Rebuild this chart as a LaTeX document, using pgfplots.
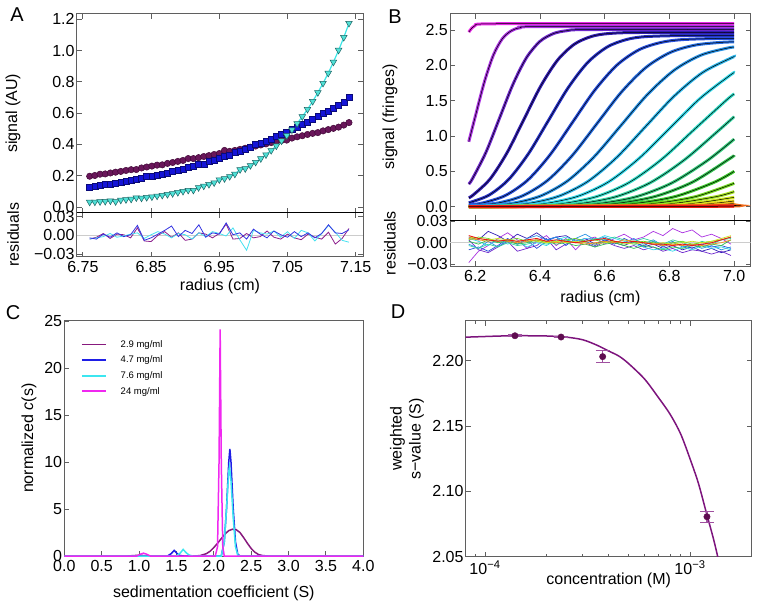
\documentclass[border=0pt]{standalone}
\usepackage{pgfplots}
\pgfplotsset{compat=1.18}
\usepackage{pgfplotstable}
\usepackage{fontspec}
\setmainfont{Liberation Sans}

\definecolor{axgray}{RGB}{95,95,95}
\definecolor{apur}{RGB}{105,22,90}
\definecolor{apurE}{RGB}{65,8,55}
\definecolor{ablu}{RGB}{20,20,215}
\definecolor{abluE}{RGB}{10,10,120}
\definecolor{acyn}{RGB}{80,225,215}
\definecolor{acynE}{RGB}{30,100,100}
\definecolor{acynL}{RGB}{60,230,230}
\definecolor{rpur}{RGB}{140,30,140}
\definecolor{rblu}{RGB}{50,50,225}
\definecolor{rcyn}{RGB}{70,225,240}
\definecolor{cpur}{RGB}{135,25,125}
\definecolor{cblu}{RGB}{30,30,230}
\definecolor{ccyn}{RGB}{60,230,240}
\definecolor{cmag}{RGB}{240,40,240}
\definecolor{dcurve}{RGB}{125,20,125}
\definecolor{dmark}{RGB}{95,12,80}
\definecolor{derr}{RGB}{160,80,160}
\definecolor{c0}{RGB}{230,40,230}
\definecolor{c1}{RGB}{170,50,225}
\definecolor{c2}{RGB}{110,40,205}
\definecolor{c3}{RGB}{50,30,180}
\definecolor{c4}{RGB}{40,50,200}
\definecolor{c5}{RGB}{40,80,220}
\definecolor{c6}{RGB}{40,110,225}
\definecolor{c7}{RGB}{40,145,228}
\definecolor{c8}{RGB}{45,180,232}
\definecolor{c9}{RGB}{50,215,232}
\definecolor{c10}{RGB}{50,220,200}
\definecolor{c11}{RGB}{50,210,160}
\definecolor{c12}{RGB}{50,200,120}
\definecolor{c13}{RGB}{50,195,80}
\definecolor{c14}{RGB}{60,200,45}
\definecolor{c15}{RGB}{110,215,30}
\definecolor{c16}{RGB}{160,225,30}
\definecolor{c17}{RGB}{205,230,30}
\definecolor{c18}{RGB}{235,215,30}
\definecolor{c19}{RGB}{240,180,30}
\definecolor{c20}{RGB}{240,145,30}
\definecolor{c21}{RGB}{240,105,25}
\definecolor{c22}{RGB}{240,65,20}
\definecolor{c23}{RGB}{235,25,20}

\pgfplotsset{
  base/.style={scale only axis, anchor=north west,
    axis line style={axgray, line width=1pt},
    tick style={axgray, line width=0.9pt},
    tick align=inside, major tick length=5pt, minor tick length=3pt,
    scaled ticks=false,
    tick label style={font=\fontsize{16}{19}\selectfont, inner sep=2pt},
    xticklabel style={yshift=-2.5pt},
    label style={font=\fontsize{16}{19}\selectfont},
    /pgf/number format/assume math mode=true, clip=true},
}

\newcommand{\bc}[2]{%
  \addplot[#1, line width=3pt, smooth, tension=0.5] coordinates {#2};
  \addplot[black, line width=0.5pt, smooth, tension=0.5] coordinates {#2};
}

\pgfplotstableread{
x p b c
6.7600 0.197 0.128 0.032
6.7676 0.202 0.133 0.033
6.7752 0.210 0.138 0.035
6.7828 0.212 0.143 0.037
6.7904 0.218 0.148 0.040
6.7980 0.223 0.153 0.035
6.8056 0.228 0.159 0.045
6.8132 0.234 0.165 0.048
6.8208 0.239 0.171 0.051
6.8284 0.240 0.177 0.060
6.8360 0.250 0.183 0.058
6.8436 0.256 0.198 0.062
6.8512 0.262 0.197 0.066
6.8588 0.268 0.204 0.071
6.8664 0.270 0.212 0.076
6.8740 0.279 0.219 0.081
6.8816 0.285 0.227 0.087
6.8892 0.292 0.235 0.094
6.8968 0.298 0.244 0.101
6.9044 0.310 0.253 0.108
6.9120 0.310 0.262 0.108
6.9196 0.316 0.271 0.125
6.9272 0.323 0.276 0.135
6.9348 0.329 0.291 0.145
6.9424 0.336 0.301 0.156
6.9500 0.342 0.311 0.175
6.9576 0.362 0.322 0.182
6.9652 0.356 0.333 0.196
6.9728 0.362 0.352 0.211
6.9804 0.369 0.357 0.240
6.9880 0.376 0.369 0.246
6.9956 0.383 0.381 0.266
7.0032 0.390 0.400 0.287
7.0108 0.397 0.408 0.310
7.0184 0.404 0.421 0.335
7.0260 0.412 0.435 0.362
7.0336 0.419 0.450 0.391
7.0412 0.426 0.464 0.423
7.0488 0.428 0.479 0.457
7.0564 0.441 0.495 0.494
7.0640 0.449 0.511 0.534
7.0716 0.456 0.527 0.578
7.0792 0.464 0.544 0.625
7.0868 0.471 0.561 0.676
7.0944 0.476 0.579 0.732
7.1020 0.487 0.597 0.792
7.1096 0.495 0.615 0.856
7.1172 0.503 0.634 0.927
7.1248 0.511 0.653 1.003
7.1324 0.524 0.673 1.085
7.1400 0.540 0.700 1.175
}\tableA

\pgfplotstableread{
x cy bl pu
6.76 -0.006 -0.004 -0.006
6.77 -0.004 -0.006 -0.003
6.78 -0.002 0.002 0.003
6.79 0.003 -0.003 -0.005
6.80 -0.003 0.004 0.002
6.81 -0.001 -0.002 0.001
6.82 0.002 0.001 -0.004
6.83 0.004 0.016 0.012
6.84 -0.005 -0.008 -0.009
6.85 0.001 -0.004 -0.010
6.86 0.006 0.002 0.000
6.87 0.002 0.008 0.006
6.88 -0.004 0.015 -0.003
6.89 0.003 -0.002 0.004
6.90 0.001 0.008 -0.008
6.91 -0.006 0.003 -0.006
6.92 0.004 0.017 0.004
6.93 -0.002 -0.003 0.002
6.94 0.006 0.004 -0.004
6.95 0.003 0.002 0.003
6.96 -0.001 0.020 0.018
6.97 0.012 0.001 -0.006
6.98 -0.007 0.004 -0.005
6.99 -0.024 -0.006 0.003
7.00 0.008 0.010 -0.004
7.01 0.004 0.002 -0.002
7.02 0.002 -0.004 0.007
7.03 0.007 0.007 -0.003
7.04 -0.003 0.001 -0.006
7.05 0.006 -0.003 0.002
7.06 -0.005 0.006 -0.004
7.07 0.008 -0.002 -0.007
7.08 0.004 0.004 0.002
7.09 -0.009 -0.004 -0.003
7.10 0.003 0.003 -0.006
7.11 0.016 0.017 0.005
7.12 0.005 0.004 -0.014
7.13 -0.008 0.003 -0.005
7.14 -0.011 0.009 0.011
}\resA

\pgfplotstableread{
x r1 r2 r3 r4 r5 r6 r7 r8 r9 r10 r11 r12
6.18 -0.028 0.004 0.008 -0.010 -0.002 0.006 -0.004 0.002 0.004 0.008 0.006 0.010
6.21 -0.012 -0.010 0.004 -0.006 -0.008 0.002 -0.008 -0.002 0.008 0.006 0.004 0.006
6.24 -0.004 -0.014 0.016 -0.012 0.002 -0.004 -0.002 0.004 0.006 0.004 0.002 0.004
6.27 0.006 -0.006 0.010 -0.004 -0.006 0.004 -0.006 0.000 0.002 0.006 0.004 0.002
6.30 0.014 0.002 0.002 0.006 0.004 -0.002 0.000 0.002 0.004 0.004 0.002 0.004
6.33 0.004 -0.012 0.012 -0.002 -0.002 0.002 -0.004 -0.002 0.006 0.002 0.000 0.002
6.36 -0.008 -0.008 0.006 0.004 0.006 -0.006 -0.002 0.000 0.002 0.004 0.002 0.004
6.39 0.002 -0.004 0.014 -0.008 0.010 0.000 0.002 0.004 0.004 0.002 0.004 0.006
6.42 0.010 0.006 0.004 0.002 0.004 -0.004 -0.002 0.002 0.000 0.000 0.002 0.002
6.45 -0.004 -0.010 0.008 0.008 0.008 0.004 0.002 -0.002 0.002 0.002 0.000 0.004
6.48 0.006 -0.002 0.010 -0.004 0.002 0.008 0.004 0.000 0.004 0.000 0.002 0.002
6.51 -0.010 0.004 0.002 0.006 0.006 0.002 0.000 -0.004 0.006 0.002 0.000 0.000
6.54 0.004 0.000 0.006 0.002 0.012 0.006 0.002 -0.002 0.002 0.000 -0.002 0.002
6.57 0.008 -0.006 -0.002 -0.004 0.004 0.004 0.006 -0.006 0.004 -0.002 0.000 0.004
6.60 -0.002 0.002 0.004 0.004 0.008 0.010 0.004 -0.002 0.000 0.000 0.002 0.006
6.63 0.006 -0.004 0.000 -0.002 0.002 0.006 0.008 0.000 0.002 0.002 0.000 0.002
6.66 0.012 -0.008 -0.004 0.006 0.000 0.002 0.004 -0.004 -0.002 0.000 0.004 0.000
6.69 0.004 -0.004 0.002 0.000 0.006 -0.002 0.002 -0.008 0.000 -0.002 0.002 0.002
6.72 0.008 -0.010 -0.006 -0.004 -0.002 -0.006 0.006 -0.004 0.002 0.000 0.000 0.000
6.75 0.016 -0.006 -0.002 0.002 0.004 -0.010 0.002 -0.006 0.000 -0.002 -0.002 -0.002
6.78 0.010 -0.012 -0.008 -0.006 -0.004 -0.008 -0.002 -0.010 -0.002 0.000 -0.004 -0.002
6.81 0.020 -0.008 -0.004 0.000 0.002 -0.012 0.004 -0.006 0.000 -0.002 -0.002 -0.004
6.84 0.014 -0.014 -0.010 -0.004 -0.006 -0.006 0.000 -0.008 0.002 0.000 -0.004 -0.002
6.87 0.018 -0.010 -0.006 -0.008 -0.002 -0.010 -0.004 -0.004 -0.002 0.002 -0.002 -0.004
6.90 0.008 -0.012 -0.012 -0.002 -0.008 -0.004 0.002 -0.006 0.000 0.000 -0.004 -0.002
6.93 0.012 -0.016 -0.008 -0.006 -0.004 -0.008 -0.002 -0.002 0.002 0.002 -0.002 0.000
6.96 0.006 -0.012 -0.014 -0.004 -0.010 -0.006 0.004 -0.004 0.004 0.006 0.000 0.004
6.99 -0.002 -0.018 -0.010 -0.008 -0.006 -0.010 0.006 0.004 0.008 0.010 0.004 0.008
}\resB

\begin{document}
\begin{tikzpicture}
\useasboundingbox (0,0) rectangle (762pt,-610pt);

% ---------------- Panel A ----------------
\begin{axis}[base, at={(76.7pt,-14pt)}, width=286.6pt, height=198.7pt,
  xmin=6.741, xmax=7.161, ymin=-0.036, ymax=1.234,
  xtick={6.75,6.85,6.95,7.05,7.15}, xticklabels={},
  ytick={0,0.2,0.4,0.6,0.8,1.0,1.2},
  yticklabel style={/pgf/number format/.cd, fixed, fixed zerofill, precision=1},
  ylabel={signal (AU)},
  ylabel style={at={(axis description cs:-0.222,0.5)}, anchor=center}]
\addplot[apur, line width=1pt, smooth] table[x=x,y=p] {\tableA};
\addplot[ablu, line width=1pt, smooth] table[x=x,y=b] {\tableA};
\addplot[acynL, line width=1.2pt, smooth] table[x=x,y=c] {\tableA};
\addplot[only marks, mark=*, mark size=3.2pt, mark options={fill=apur, draw=apurE, line width=0.5pt}] table[x=x,y=p] {\tableA};
\addplot[only marks, mark=square*, mark size=3pt, mark options={fill=ablu, draw=abluE, line width=0.5pt}] table[x=x,y=b] {\tableA};
\addplot[only marks, mark=triangle*, mark size=3.8pt, mark options={rotate=180, fill=acyn, draw=acynE, line width=0.5pt}] table[x=x,y=c] {\tableA};
\end{axis}

\begin{axis}[base, at={(76.7pt,-212.7pt)}, width=286.6pt, height=44pt,
  xmin=6.741, xmax=7.161, ymin=-0.0343, ymax=0.0364,
  xtick={6.75,6.85,6.95,7.05,7.15}, xticklabels={6.75,6.85,6.95,7.05,7.15},
  ytick={-0.03,0,0.03}, yticklabels={−0.03,0.00,0.03},
  xlabel={radius (cm)}, ylabel={residuals},
  xlabel style={at={(axis description cs:0.5,-0.68)}, anchor=center},
  ylabel style={at={(axis description cs:-0.222,0.5)}, anchor=center}]
\addplot[black!20, line width=0.8pt] coordinates {(6.741,0) (7.161,0)};
\addplot[rpur, line width=0.8pt] table[x=x,y=pu] {\resA};
\addplot[rcyn, line width=0.8pt] table[x=x,y=cy] {\resA};
\addplot[rblu, line width=0.8pt] table[x=x,y=bl] {\resA};
\draw[black, line width=1pt] (rel axis cs:0,1) -- (rel axis cs:1,1);
\end{axis}

% ---------------- Panel B ----------------
\begin{axis}[base, at={(450pt,-14pt)}, width=300.7pt, height=206pt,
  xmin=6.122, xmax=7.051, ymin=-0.189, ymax=2.726,
  xtick={6.2,6.4,6.6,6.8,7.0}, xticklabels={},
  ytick={0,0.5,1.0,1.5,2.0,2.5},
  yticklabel style={/pgf/number format/.cd, fixed, fixed zerofill, precision=1},
  ylabel={signal (fringes)},
  ylabel style={at={(axis description cs:-0.1995,0.5)}, anchor=center}]
\bc{c0}{(6.18,2.47) (6.19,2.53) (6.20,2.565) (6.22,2.585) (6.4,2.59) (7.0,2.59)}
\bc{c1}{(6.18,0.919) (6.20,1.274) (6.228,1.762) (6.256,2.144) (6.284,2.378) (6.312,2.490) (6.34,2.532) (6.40,2.548) (7.0,2.548)}
\bc{c2}{(6.18,0.319) (6.1917,0.398) (6.2334,0.773) (6.275,1.253) (6.3167,1.733) (6.3583,2.108) (6.40,2.339) (6.4416,2.449) (6.4833,2.490) (6.55,2.506) (7.0,2.506)}
\bc{c3}{(6.18,0.127) (6.1936,0.165) (6.2457,0.391) (6.2979,0.760) (6.35,1.232) (6.4021,1.704) (6.4543,2.073) (6.5064,2.299) (6.5586,2.408) (6.6107,2.449) (6.70,2.464) (7.0,2.464)}
\bc{c4}{(6.18,0.054) (6.242,0.162) (6.303,0.384) (6.364,0.747) (6.425,1.211) (6.486,1.675) (6.547,2.038) (6.608,2.260) (6.669,2.367) (6.73,2.407) (6.85,2.422) (7.0,2.422)}
\bc{c5}{(6.18,0.023) (6.2248,0.054) (6.2936,0.159) (6.3624,0.377) (6.4312,0.734) (6.50,1.190) (6.5688,1.645) (6.6376,2.002) (6.7064,2.221) (6.7752,2.325) (6.844,2.365) (6.95,2.380) (7.0,2.380)}
\bc{c6}{(6.18,0.011) (6.2717,0.053) (6.3475,0.156) (6.4233,0.371) (6.4992,0.721) (6.575,1.169) (6.6508,1.617) (6.7267,1.967) (6.8025,2.182) (6.8783,2.285) (6.9542,2.323) (7.0,2.332)}
\bc{c7}{(6.18,0.005) (6.2385,0.0143) (6.3208,0.0524) (6.4031,0.153) (6.4854,0.365) (6.5677,0.708) (6.65,1.148) (6.7323,1.588) (6.8146,1.931) (6.8969,2.143) (6.9792,2.244) (7.0,2.257)}
\bc{c8}{(6.18,0.002) (6.2833,0.014) (6.3716,0.0514) (6.46,0.151) (6.5483,0.358) (6.6367,0.695) (6.725,1.127) (6.8134,1.559) (6.9017,1.896) (6.99,2.103) (7.0,2.119)}
\bc{c9}{(6.18,0.001) (6.33,0.0137) (6.424,0.0504) (6.518,0.148) (6.612,0.351) (6.706,0.683) (6.80,1.106) (6.894,1.529) (6.988,1.861) (7.0,1.894)}
\bc{c10}{(6.18,0) (6.3782,0.0135) (6.4776,0.0495) (6.577,0.145) (6.6763,0.344) (6.7757,0.669) (6.875,1.085) (6.9744,1.501) (7.0,1.596)}
\bc{c11}{(6.18,0) (6.4278,0.0133) (6.5322,0.0488) (6.6367,0.143) (6.7411,0.3397) (6.8456,0.660) (6.95,1.070) (7.0,1.273)}
\bc{c12}{(6.18,0) (6.4785,0.013) (6.5878,0.0478) (6.6971,0.140) (6.8064,0.333) (6.9157,0.648) (7.0,0.955)}
\bc{c13}{(6.18,0) (6.53,0.0136) (6.644,0.0502) (6.758,0.147) (6.872,0.349) (6.986,0.679) (7.0,0.727)}
\bc{c14}{(6.18,0) (6.5825,0.0135) (6.701,0.0495) (6.8195,0.145) (6.938,0.344) (7.0,0.4995)}
\bc{c15}{(6.18,0) (6.636,0.0133) (6.7588,0.0488) (6.8816,0.143) (7.0,0.330)}
\bc{c16}{(6.18,0) (6.69,0.0131) (6.817,0.0481) (6.944,0.141) (7.0,0.212)}
\bc{c17}{(6.18,0) (6.7448,0.0129) (6.8758,0.0474) (7.0,0.132)}
\bc{c18}{(6.18,0) (6.80,0.0127) (6.935,0.0467) (7.0,0.0806)}
\bc{c19}{(6.18,0) (6.8557,0.0125) (7.0,0.048)}
\bc{c20}{(6.18,0) (6.912,0.0124) (7.0,0.0284)}
\bc{c21}{(6.18,0) (6.95,0.008) (7.0,0.017)}
\bc{c22}{(6.18,0) (7.0,0.01)}
\bc{c23}{(6.18,0) (7.0,0.006)}
\end{axis}

\begin{axis}[base, at={(450pt,-220pt)}, width=300.7pt, height=46pt,
  xmin=6.122, xmax=7.051, ymin=-0.0328, ymax=0.032,
  xtick={6.2,6.4,6.6,6.8,7.0}, xticklabels={6.2,6.4,6.6,6.8,7.0},
  ytick={-0.03,0,0.03}, yticklabels={−0.03,0.00,0.03},
  xlabel={radius (cm)}, ylabel={residuals},
  xlabel style={at={(axis description cs:0.5,-0.7)}, anchor=center},
  ylabel style={at={(axis description cs:-0.1995,0.5)}, anchor=center}]
\addplot[black!20, line width=0.8pt] coordinates {(6.122,0) (7.051,0)};
\addplot[c1, line width=0.7pt] table[x=x,y=r1] {\resB};
\addplot[c2, line width=0.7pt] table[x=x,y=r2] {\resB};
\addplot[c3, line width=0.7pt] table[x=x,y=r3] {\resB};
\addplot[c5, line width=0.7pt] table[x=x,y=r4] {\resB};
\addplot[c7, line width=0.7pt] table[x=x,y=r5] {\resB};
\addplot[c9, line width=0.7pt] table[x=x,y=r6] {\resB};
\addplot[c11, line width=0.7pt] table[x=x,y=r7] {\resB};
\addplot[c13, line width=0.7pt] table[x=x,y=r8] {\resB};
\addplot[c15, line width=0.7pt] table[x=x,y=r9] {\resB};
\addplot[c17, line width=0.7pt] table[x=x,y=r10] {\resB};
\addplot[c20, line width=0.7pt] table[x=x,y=r11] {\resB};
\addplot[c23, line width=0.9pt] table[x=x,y=r12] {\resB};
\draw[black, line width=1pt] (rel axis cs:0,1) -- (rel axis cs:1,1);
\end{axis}

% ---------------- Panel C ----------------
\begin{axis}[base, at={(64.3pt,-320.5pt)}, width=299pt, height=235.5pt,
  xmin=0, xmax=4, ymin=0, ymax=25.05,
  xtick={0,0.5,1,1.5,2,2.5,3,3.5,4}, ytick={0,5,10,15,20,25},
  xtick pos=bottom, ytick pos=left,
  xticklabel style={/pgf/number format/.cd, fixed, fixed zerofill, precision=1},
  xlabel={sedimentation coefficient (S)}, ylabel={normalized \textit{c}(s)},
  xlabel style={at={(axis description cs:0.5,-0.157)}, anchor=center},
  ylabel style={at={(axis description cs:-0.118,0.5)}, anchor=center},
  legend style={draw=none, fill=none, at={(axis description cs:0.055,0.925)}, anchor=north west,
    font=\fontsize{9.5}{11}\selectfont, row sep=3.2pt, inner sep=0pt},
  legend cell align=left,
  legend image code/.code={\draw[#1, line width=1.8pt] (0pt,0pt) -- (24pt,0pt);}]
\addplot[cpur, line width=1.5pt] coordinates {(0,0) (0.85,0) (0.92,0.04) (1.0,0.08) (1.08,0.04) (1.15,0) (1.75,0) (1.82,0.05) (1.9,0.25) (1.95,0.5) (2.0,0.9) (2.05,1.35) (2.1,1.85) (2.15,2.35) (2.2,2.7) (2.25,2.85) (2.3,2.8) (2.35,2.5) (2.4,1.95) (2.45,1.35) (2.5,0.8) (2.55,0.4) (2.6,0.15) (2.65,0.05) (2.72,0) (4,0)};
\addlegendentry{\hspace*{12pt}2.9 mg/ml}
\addplot[cblu, line width=1.5pt] coordinates {(0,0) (1.38,0) (1.43,0.25) (1.47,0.6) (1.51,0.25) (1.55,0.05) (1.6,0) (2.1,0) (2.14,1.5) (2.17,5) (2.2,10) (2.215,11.4) (2.23,10) (2.26,5) (2.29,1.5) (2.32,0.2) (2.35,0) (4,0)};
\addlegendentry{\hspace*{12pt}4.7 mg/ml}
\addplot[ccyn, line width=1.5pt] coordinates {(0,0) (1.5,0) (1.55,0.3) (1.59,0.7) (1.63,0.35) (1.67,0.1) (1.72,0) (2.1,0) (2.14,1.5) (2.17,5) (2.2,9) (2.21,9.5) (2.23,8) (2.26,4) (2.29,1) (2.32,0.1) (2.35,0) (4,0)};
\addlegendentry{\hspace*{12pt}7.6 mg/ml}
\addplot[cmag, line width=1.5pt] coordinates {(0,0) (0.97,0) (1.02,0.2) (1.06,0.3) (1.1,0.2) (1.15,0) (2.02,0) (2.05,1) (2.07,10) (2.085,24.1) (2.10,10) (2.12,1) (2.14,0) (4,0)};
\addlegendentry{\hspace*{12pt}24 mg/ml}
\end{axis}

% ---------------- Panel D ----------------
\begin{axis}[base, at={(465.7pt,-320.7pt)}, width=286pt, height=236pt,
  xmode=log, xmin=8.05e-5, xmax=2.0e-3, ymin=2.05, ymax=2.2306,
  xtick={1e-4,1e-3}, xticklabels={10\textsuperscript{−4},10\textsuperscript{−3}},
  xticklabel style={yshift=1pt},
  minor xtick={9e-5,2e-4,3e-4,4e-4,5e-4,6e-4,7e-4,8e-4,9e-4,2e-3},
  ytick={2.05,2.10,2.15,2.20},
  yticklabel style={/pgf/number format/.cd, fixed, fixed zerofill, precision=2},
  xlabel={concentration (M)}, ylabel={weighted\\s−value (S)},
  xlabel style={at={(axis description cs:0.5,-0.10)}, anchor=center},
  ylabel style={at={(axis description cs:-0.205,0.5)}, anchor=center, align=center}]
\addplot[dcurve, line width=1.5pt, smooth] coordinates {(8.05e-5,2.2180) (1.0e-4,2.2185) (1.2e-4,2.2189) (1.5e-4,2.2191) (2.0e-4,2.2189) (2.5e-4,2.2180) (3.0e-4,2.2160) (3.5e-4,2.2120) (4.0e-4,2.2075) (4.5e-4,2.2035) (5.0e-4,2.1980) (6.0e-4,2.1860) (7.0e-4,2.1720) (8.0e-4,2.1590) (9.0e-4,2.1440) (1.0e-3,2.1250) (1.1e-3,2.1060) (1.2e-3,2.0840) (1.3e-3,2.0640) (1.37e-3,2.0490) (1.4e-3,2.0420)};
\addplot[only marks, mark=*, mark size=3.2pt, color=dmark,
  error bars/.cd, y dir=both, y explicit,
  error bar style={derr, line width=1.2pt},
  error mark options={rotate=90, mark size=7pt, derr, line width=1.2pt}]
  coordinates {(1.40e-4,2.2191) +- (0,0.0005) (2.35e-4,2.2181) +- (0,0.0005) (3.75e-4,2.2031) +- (0,0.0046) (1.21e-3,2.0806) +- (0,0.0043)};
\end{axis}

\node[font=\fontsize{20}{24}\selectfont] at (17pt,-15pt) {A};
\node[font=\fontsize{20}{24}\selectfont] at (395pt,-17pt) {B};
\node[font=\fontsize{20}{24}\selectfont] at (13pt,-313pt) {C};
\node[font=\fontsize{20}{24}\selectfont] at (398pt,-312pt) {D};
\end{tikzpicture}
\end{document}
